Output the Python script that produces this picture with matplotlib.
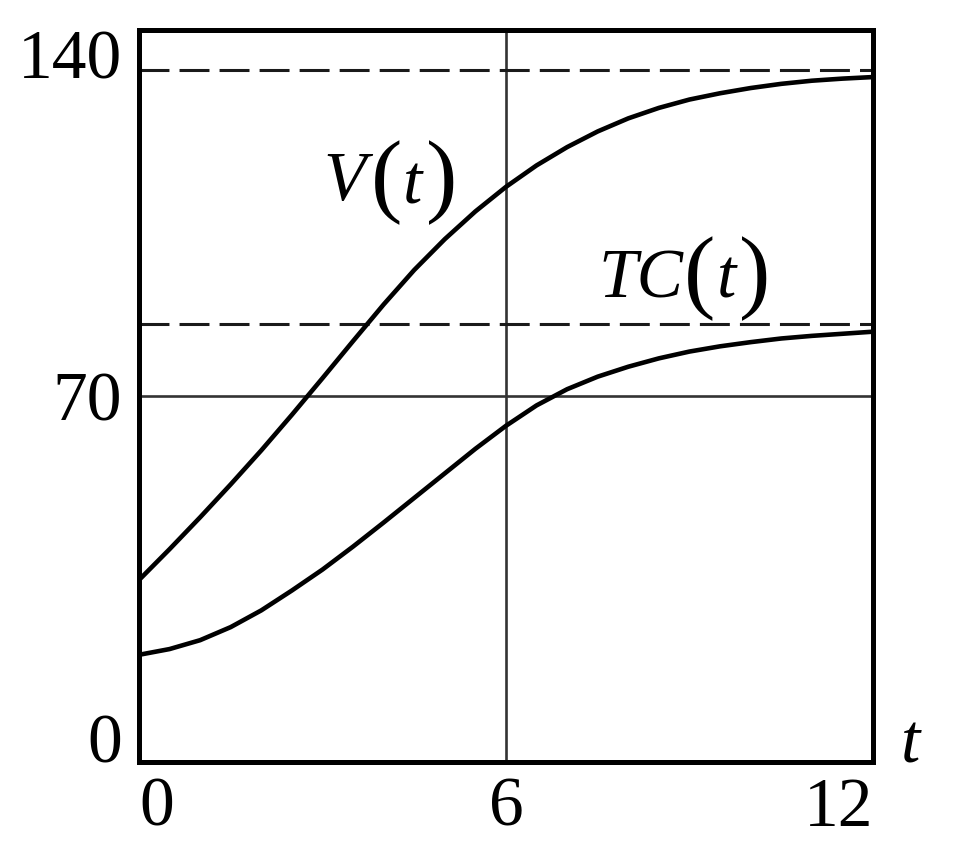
import matplotlib
matplotlib.use('Agg')
import matplotlib.pyplot as plt
import numpy as np

plt.rcParams['font.family'] = ['Liberation Serif', 'DejaVu Serif']

# values, every half unit of t
t = np.arange(0, 12.5, 0.5)
V = [34.8, 40.7, 46.8, 53.1, 59.6, 66.4, 73.4, 80.5, 87.5, 94.1, 100.0, 105.3,
     110.0, 114.1, 117.6, 120.6, 123.1, 125.1, 126.7, 127.9, 128.9, 129.7,
     130.3, 130.7, 131.0]
TC = [20.5, 21.6, 23.3, 25.8, 29.0, 32.8, 36.8, 41.2, 45.8, 50.5, 55.2, 59.9,
      64.3, 68.2, 71.3, 73.7, 75.6, 77.2, 78.5, 79.5, 80.3, 81.0, 81.5, 81.9,
      82.3]
V_limit = 132.3
TC_limit = 83.7
xticks = [0, 6, 12]
yticks = [0, 70, 140]

fig = plt.figure(figsize=(9.63, 8.67), dpi=100)
ax = fig.add_axes([0.1443, 0.1211, 0.7622, 0.8443])

# reference lines
ax.axhline(70, color='#333333', lw=1.9, zorder=1)
ax.axvline(6, color='#333333', lw=1.9, zorder=1)
ax.axhline(V_limit, color='#1a1a1a', lw=2.2, ls=(0, (9.8, 3.3)), zorder=1)
ax.axhline(TC_limit, color='#1a1a1a', lw=2.2, ls=(0, (9.8, 3.3)), zorder=1)

# curves
ax.plot(t, V, color='black', lw=3.3, zorder=2, solid_joinstyle='round')
ax.plot(t, TC, color='black', lw=3.3, zorder=2, solid_joinstyle='round')

ax.set_xlim(0, 12)
ax.set_ylim(0, 140)
for s in ax.spines.values():
    s.set_linewidth(3.6)

ax.set_xticks(xticks)
ax.set_yticks(yticks)
ax.set_xticklabels([str(v) for v in xticks])
ax.set_yticklabels([str(v) for v in yticks])
ax.tick_params(length=0, labelsize=50)
ax.tick_params(axis='x', pad=11)
ax.tick_params(axis='y', pad=12)
xl = ax.get_xticklabels()
xl[0].set_ha('left')
xl[2].set_ha('right')
yl = ax.get_yticklabels()
yl[0].set_va('baseline')
yl[2].set_va('top')

# axis name
ax.text(12.45, 0, 't', fontsize=50, style='italic', ha='left', va='baseline',
        clip_on=False)

# curve labels
ax.text(3.36, 107.5, 'V', fontsize=50, style='italic', ha='center', va='baseline')
ax.text(4.05, 110.8, '(', fontsize=68, ha='center', va='center')
ax.text(4.48, 106.9, 't', fontsize=50, style='italic', ha='center', va='baseline')
ax.text(4.95, 110.8, ')', fontsize=68, ha='center', va='center')

ax.text(8.20, 88.9, 'TC', fontsize=50, style='italic', ha='center', va='baseline')
ax.text(9.17, 92.4, '(', fontsize=68, ha='center', va='center')
ax.text(9.60, 88.9, 't', fontsize=50, style='italic', ha='center', va='baseline')
ax.text(10.07, 92.4, ')', fontsize=68, ha='center', va='center')

fig.savefig('out.png', dpi=100)
